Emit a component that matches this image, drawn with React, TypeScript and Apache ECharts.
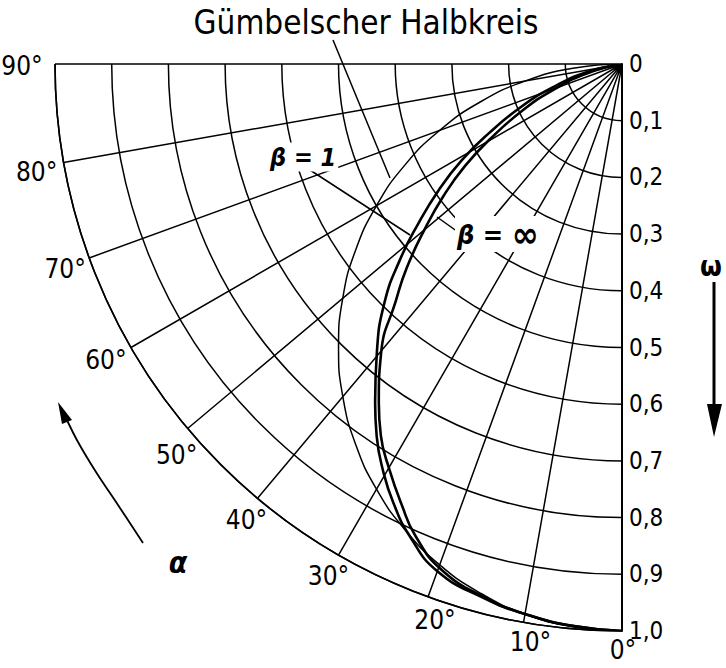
import React, { useEffect, useRef } from "react";
import * as echarts from "echarts";

// Angle scale (degrees) and relative eccentricity scale
const angleMin = 0;
const angleMax = 90;
const angleStep = 10;
const epsMin = 0;
const epsMax = 1;
const epsStep = 0.1;

// Degree labels along the outer arc
const angleTicks = [0, 10, 20, 30, 40, 50, 60, 70, 80, 90];
// Pixel nudge of each degree label away from the arc end of its ray
const angleLabelOffset: [number, number][] = [
  [1, 19], [7, 20], [7, 23], [-10, 21], [-11, 22],
  [-11, 27], [-25, 12], [-24, 11], [-27, 10], [-33, 2],
];

// Gümbel half-circle, points as [ε, α°]
const guembel: [number, number][] = [
  [0, 90], [0.087, 85], [0.174, 80], [0.259, 75], [0.342, 70], [0.423, 65],
  [0.5, 60], [0.574, 55], [0.643, 50], [0.707, 45], [0.766, 40], [0.819, 35],
  [0.866, 30], [0.906, 25], [0.94, 20], [0.966, 15], [0.985, 10], [0.996, 5], [1, 0],
];

// Shaft-centre locus for β = 1, points as [ε, α°]
const beta1: [number, number][] = [
  [0, 80], [0.063, 77], [0.127, 71.5], [0.193, 67], [0.265, 62.5], [0.33, 59],
  [0.392, 55.5], [0.455, 52], [0.524, 48.5], [0.595, 44.8], [0.667, 40.4],
  [0.739, 36.1], [0.786, 33.4], [0.831, 30.5], [0.873, 27.5], [0.913, 24.2],
  [0.952, 20.0], [0.973, 14.5], [0.985, 10], [0.995, 4.9], [1, 0],
];

// Shaft-centre locus for β = ∞, points as [ε, α°]
const betaInf: [number, number][] = [
  [0, 78], [0.063, 75], [0.127, 69.5], [0.193, 65], [0.265, 60.5], [0.33, 57],
  [0.392, 53.5], [0.455, 50], [0.524, 46.5], [0.579, 43.6], [0.662, 39.9],
  [0.735, 35.7], [0.781, 33.0], [0.825, 29.8], [0.867, 26.7], [0.909, 23.6],
  [0.948, 19.5], [0.972, 14.3], [0.985, 10], [0.995, 4.9], [1, 0],
];

const FONT = "'DejaVu Sans Condensed', 'Liberation Sans Narrow', 'DejaVu Sans', sans-serif";

const fmtEps = (v: number) => (v === 0 ? "0" : v.toFixed(1).replace(".", ","));

export default function App() {
  const ref = useRef<HTMLDivElement>(null);

  useEffect(() => {
    document.body.style.margin = "0";
    if (!ref.current) return;
    const chart = echarts.init(ref.current, undefined, { renderer: "svg" });

    const gridLine = { color: "#000", width: 1.5 };

    const angleLabelData = angleTicks.map((a, i) => ({
      value: [epsMax, a],
      label: { offset: angleLabelOffset[i] },
    }));

    chart.setOption({
      animation: false,
      backgroundColor: "#fff",
      polar: { center: [622, 64], radius: 567 },
      angleAxis: {
        type: "value",
        min: angleMin,
        max: angleMax,
        interval: angleStep,
        startAngle: 270,
        endAngle: 180,
        clockwise: true,
        axisLine: { show: true, lineStyle: { color: "#000", width: 1.6 } },
        axisTick: { show: false },
        axisLabel: { show: false },
        splitLine: { show: true, lineStyle: gridLine },
      },
      radiusAxis: {
        type: "value",
        min: epsMin,
        max: epsMax,
        interval: epsStep,
        axisLine: { show: true, lineStyle: { color: "#000", width: 2 } },
        axisTick: { show: false },
        axisLabel: {
          show: true,
          formatter: fmtEps,
          color: "#000",
          fontFamily: FONT,
          fontSize: 24,
          margin: 7,
        },
        splitLine: { show: true, lineStyle: gridLine },
      },
      series: [
        {
          name: "Gümbelscher Halbkreis",
          type: "line",
          coordinateSystem: "polar",
          data: guembel,
          smooth: true,
          symbol: "none",
          lineStyle: { color: "#000", width: 1.5 },
          z: 3,
        },
        {
          name: "β = 1",
          type: "line",
          coordinateSystem: "polar",
          data: beta1,
          smooth: true,
          symbol: "none",
          lineStyle: { color: "#000", width: 2.6 },
          z: 4,
        },
        {
          name: "β = ∞",
          type: "line",
          coordinateSystem: "polar",
          data: betaInf,
          smooth: true,
          symbol: "none",
          lineStyle: { color: "#000", width: 2.6 },
          z: 4,
        },
        {
          name: "α",
          type: "scatter",
          coordinateSystem: "polar",
          data: angleLabelData,
          symbolSize: 0,
          itemStyle: { color: "#000", opacity: 1 },
          clip: false,
          silent: true,
          label: {
            show: true,
            position: "inside",
            align: "center",
            verticalAlign: "middle",
            formatter: (p: any) => `${p.value[1]}°`,
            color: "#000",
            opacity: 1,
            textBorderWidth: 0,
            textBorderColor: "transparent",
            fontFamily: FONT,
            fontSize: 26,
          },
          z: 6,
        },
      ],
      graphic: [
        {
          type: "text",
          x: 366,
          y: 22,
          style: {
            text: "Gümbelscher Halbkreis",
            font: `33px ${FONT}`,
            fill: "#000",
            align: "center",
            verticalAlign: "middle",
          },
        },
        {
          type: "line",
          shape: { x1: 333, y1: 40, x2: 390, y2: 178 },
          style: { stroke: "#000", lineWidth: 1.5 },
          z: 5,
        },
        {
          type: "line",
          shape: { x1: 310, y1: 170, x2: 410, y2: 235 },
          style: { stroke: "#000", lineWidth: 1.5 },
          z: 5,
        },
        {
          type: "line",
          shape: { x1: 458, y1: 232, x2: 437, y2: 217 },
          style: { stroke: "#000", lineWidth: 1.5 },
          z: 5,
        },
        {
          type: "text",
          x: 268,
          y: 157,
          z: 6,
          style: {
            text: "β = 1",
            font: `italic bold 25px ${FONT}`,
            fill: "#000",
            align: "left",
            verticalAlign: "middle",
            backgroundColor: "#fff",
            padding: [2, 2],
          },
        },
        {
          type: "text",
          x: 455,
          y: 234,
          z: 6,
          style: {
            text: "{b|β = }{i|∞}",
            rich: {
              b: { font: `italic bold 27px ${FONT}`, fill: "#000" },
              i: { font: `bold 36px ${FONT}`, fill: "#000" },
            },
            align: "left",
            verticalAlign: "middle",
            backgroundColor: "#fff",
            padding: [0, 2],
          },
        },
        {
          type: "text",
          x: 700,
          y: 266,
          style: {
            text: "ω",
            font: `bold 28px ${FONT}`,
            fill: "#000",
            align: "left",
            verticalAlign: "middle",
          },
        },
        {
          type: "line",
          shape: { x1: 714, y1: 282, x2: 714, y2: 412 },
          style: { stroke: "#000", lineWidth: 3 },
        },
        {
          type: "polygon",
          shape: { points: [[707, 404], [722, 404], [714, 437]] },
          style: { fill: "#000" },
        },
        {
          type: "polyline",
          shape: {
            points: [[143, 543], [118, 505], [96, 472], [78, 442], [66, 418]],
            smooth: 0.4,
          },
          style: { stroke: "#000", lineWidth: 1.8, fill: null },
        },
        {
          type: "polygon",
          shape: { points: [[58, 402], [72, 420], [62, 424]] },
          style: { fill: "#000" },
        },
        {
          type: "text",
          x: 178,
          y: 562,
          style: {
            text: "α",
            font: `italic bold 30px ${FONT}`,
            fill: "#000",
            align: "center",
            verticalAlign: "middle",
          },
        },
      ],
    });

    return () => chart.dispose();
  }, []);

  return <div ref={ref} style={{ width: 726, height: 668 }} />;
}
